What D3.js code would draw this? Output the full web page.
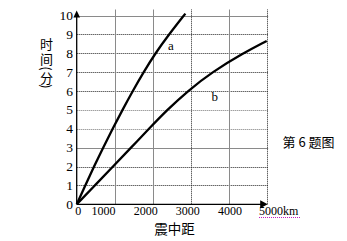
<!DOCTYPE html>
<html>
<head>
<meta charset="utf-8">
<script src="https://cdn.jsdelivr.net/npm/d3@7"></script>
<style>
  html, body { margin: 0; padding: 0; background: #fff; }
  svg { display: block; }
</style>
</head>
<body>
<svg id="chart" width="347" height="241"></svg>
<script>
// distance (km) / time (min)
const timeTicks = [0, 1, 2, 3, 4, 5, 6, 7, 8, 9, 10];
const distTicks = [0, 1000, 2000, 3000, 4000, 5000];

const curveADist = [0, 225, 455, 695, 945, 1205, 1475, 1760, 2070, 2430, 2860];
const curveATime = [0, 1, 2, 3, 4, 5, 6, 7, 8, 9, 10.1];

const curveBDist = [0, 480, 955, 1430, 1900, 2380, 2920, 3560, 4380, 5000];
const curveBTime = [0, 1, 2, 3, 4, 5, 6, 7, 8, 8.65];

// vertical title 时间(分): the brackets are turned sideways as in the figure
const yTitleChars = ['时', '间', '(', '分', ')'];

const solidTimeLines = [10, 3];
const solidDistLines = [1000, 2000, 4000];

const serif = '"Liberation Serif", "Times New Roman", serif';
const cjk = '"Noto Sans CJK SC", sans-serif';

const svg = d3.select('#chart');

const x = d3.scaleLinear().domain([0, 5000]).range([76.7, 266.7]);
const y = d3.scaleLinear().domain([0, 10]).range([204.3, 15.5]);
// the tick labels in the figure sit on their own, slightly wider spacing
const xLabel = d3.scaleLinear().domain([1000, 5000]).range([103.5, 272]);

const grid = svg.append('g').attr('class', 'grid');

grid.selectAll('line.h')
    .data(timeTicks.filter(d => d > 0))
    .enter().append('line')
    .attr('class', 'h')
    .attr('x1', x(0)).attr('x2', x(5000) + 1.5)
    .attr('y1', d => Math.round(y(d)) + 0.5)
    .attr('y2', d => Math.round(y(d)) + 0.5)
    .attr('stroke', d => solidTimeLines.includes(d) ? '#8a8a8a' : (d === 4 || d === 5 ? '#777' : '#222'))
    .attr('stroke-width', 1)
    .attr('stroke-dasharray', d => solidTimeLines.includes(d) ? null : '1,1');

grid.selectAll('line.v')
    .data(distTicks.filter(d => d > 0))
    .enter().append('line')
    .attr('class', 'v')
    .attr('x1', d => Math.round(x(d)) + 0.5)
    .attr('x2', d => Math.round(x(d)) + 0.5)
    .attr('y1', y(0)).attr('y2', 9.5)
    .attr('stroke', d => solidDistLines.includes(d) ? '#8a8a8a' : '#222')
    .attr('stroke-width', 1)
    .attr('stroke-dasharray', d => solidDistLines.includes(d) ? null : '1,1');

// axes with arrows
const axes = svg.append('g').attr('class', 'axes');
axes.append('line')
    .attr('x1', x(0)).attr('x2', x(0))
    .attr('y1', y(0)).attr('y2', 14)
    .attr('stroke', '#000').attr('stroke-width', 1.3);
axes.append('path')
    .attr('d', `M${x(0)},10.5 L${x(0) - 3.3},17.5 L${x(0) + 3.3},17.5 Z`)
    .attr('fill', '#000');
axes.append('line')
    .attr('x1', x(0)).attr('x2', x(5000) - 3)
    .attr('y1', y(0)).attr('y2', y(0))
    .attr('stroke', '#000').attr('stroke-width', 1.3);
axes.append('path')
    .attr('d', `M${x(5000) + 1},${y(0)} L${x(5000) - 6.5},${y(0) - 4} L${x(5000) - 6.5},${y(0) + 4} Z`)
    .attr('fill', '#000');

// curves
const line = d3.line()
    .x(d => x(d[0]))
    .y(d => y(d[1]))
    .curve(d3.curveBasis);

const seriesA = curveADist.map((d, i) => [d, curveATime[i]]);
const seriesB = curveBDist.map((d, i) => [d, curveBTime[i]]);

svg.append('g').attr('class', 'curves')
    .selectAll('path')
    .data([seriesA, seriesB])
    .enter().append('path')
    .attr('d', line)
    .attr('fill', 'none')
    .attr('stroke', '#000')
    .attr('stroke-width', 2.3)
    .attr('stroke-linecap', 'butt');

// y tick labels
svg.append('g').selectAll('text')
    .data(timeTicks)
    .enter().append('text')
    .attr('x', 73)
    .attr('y', d => y(d) + 4.5)
    .attr('text-anchor', 'end')
    .attr('font-family', serif)
    .attr('font-size', 13.5)
    .text(d => d);

// x tick labels
const xt = svg.append('g').attr('font-family', serif).attr('font-size', 12);
xt.append('text')
    .attr('x', x(0) + 1.5).attr('y', 215)
    .attr('text-anchor', 'middle')
    .text(distTicks[0]);
xt.selectAll('text.t')
    .data(distTicks.filter(d => d > 0 && d < 5000))
    .enter().append('text')
    .attr('class', 't')
    .attr('x', d => xLabel(d))
    .attr('y', 215)
    .attr('text-anchor', 'middle')
    .text(d => d);
xt.append('text')
    .attr('x', xLabel(5000) - 13).attr('y', 215)
    .text(distTicks[5])
    .append('tspan').text('km');
xt.append('line')
    .attr('x1', 259).attr('x2', 300)
    .attr('y1', 217.5).attr('y2', 217.5)
    .attr('stroke', '#c020c0').attr('stroke-width', 1)
    .attr('stroke-dasharray', '1,1');

// axis titles: vertical 时间(分), one glyph per row
const titleY = [43.5, 58.5, 68.5, 77.5, 86.5];
const isBracket = d => d === '(' || d === ')';
svg.append('g')
    .selectAll('text')
    .data(yTitleChars)
    .enter().append('text')
    .attr('x', 46.5)
    .attr('y', (d, i) => titleY[i])
    .attr('dominant-baseline', 'central')
    .attr('text-anchor', 'middle')
    .attr('font-family', cjk)
    .attr('font-size', 13)
    .attr('transform', (d, i) => isBracket(d) ? `rotate(90,46.5,${titleY[i]})` : null)
    .text(d => d);

svg.append('text')
    .attr('x', 174.5).attr('y', 234)
    .attr('text-anchor', 'middle')
    .attr('font-family', cjk)
    .attr('font-size', 13.5)
    .text('震中距');

// curve labels
svg.append('text')
    .attr('x', 168).attr('y', 49.5)
    .attr('font-family', serif).attr('font-size', 13)
    .text('a');
svg.append('text')
    .attr('x', 211.5).attr('y', 101)
    .attr('font-family', serif).attr('font-size', 13)
    .text('b');

svg.append('text')
    .attr('x', 282.5).attr('y', 146.5)
    .attr('font-family', cjk)
    .attr('font-size', 13)
    .text('第 6 题图');
</script>
</body>
</html>
